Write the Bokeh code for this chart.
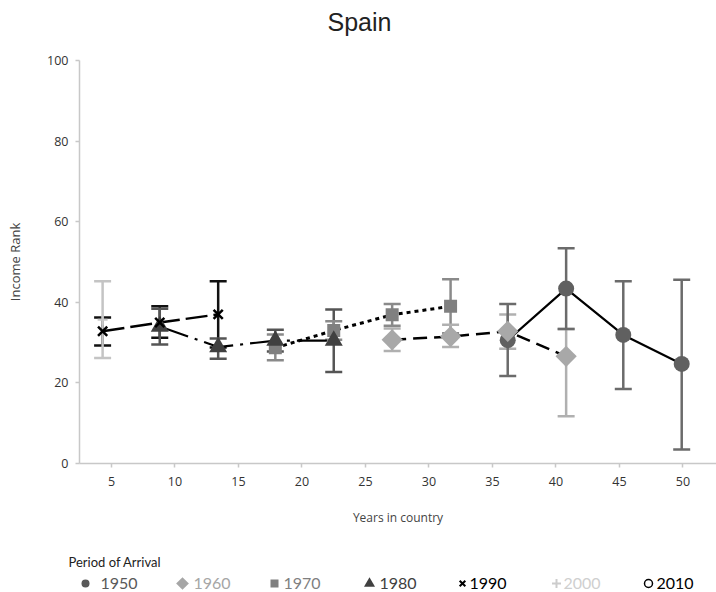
import numpy as np
from bokeh.plotting import figure
from bokeh.models import Range1d, ColumnDataSource, Whisker, TeeHead, FixedTicker
from bokeh.layouts import column
from bokeh.embed import file_html
from bokeh.resources import INLINE
from bokeh.core.properties import value

# ---------------- data ----------------
periods = ["1950", "1960", "1970", "1980", "1990", "2000", "2010"]

x_1950 = [36.2, 40.8, 45.3, 49.9]
y_1950 = [30.6, 43.4, 31.9, 24.7]
lo_1950 = [21.7, 33.4, 18.5, 3.5]
hi_1950 = [39.6, 53.4, 45.2, 45.6]

x_1960 = [27.1, 31.7, 36.2, 40.8]
y_1960 = [30.7, 31.5, 32.8, 26.6]
lo_1960 = [27.9, 28.9, 28.5, 11.7]
hi_1960 = [33.5, 34.4, 37.0, 33.4]

x_1970 = [17.9, 22.5, 27.1, 31.7]
y_1970 = [28.7, 33.0, 36.9, 39.0]
lo_1970 = [25.6, 30.7, 34.2, 32.3]
hi_1970 = [32.0, 35.3, 39.6, 45.7]

x_1980 = [8.8, 13.4, 17.9, 22.5]
y_1980 = [34.0, 28.9, 30.5, 30.5]
lo_1980 = [29.5, 26.0, 27.8, 22.7]
hi_1980 = [38.4, 31.0, 33.2, 38.2]

x_1990 = [4.3, 8.8, 13.4]
y_1990 = [32.8, 35.0, 37.0]
lo_1990 = [29.3, 31.2, 28.8]
hi_1990 = [36.2, 39.0, 45.2]

x_2000 = [4.3]
y_2000 = [35.7]
lo_2000 = [26.2]
hi_2000 = [45.2]

x_ticks = [5, 10, 15, 20, 25, 30, 35, 40, 45, 50]
y_ticks = [0, 20, 40, 60, 80, 100]

title_text = "Spain"
x_title = "Years in country"
y_title = "Income Rank"
legend_title = "Period of Arrival"

# ---------------- layout constants (pixels) ----------------
W = 716
TITLE_H = 52
MAIN_H = 493
LEG_H = 47
FRAME_L = 79
FRAME_T = 60          # picture y of value 100
FRAME_B = 463         # picture y of value 0
AXIS_FONT = "Open Sans"


def bare_panel(height, top):
    f = figure(width=W, height=height, x_range=Range1d(0, W),
               y_range=Range1d(top + height, top),
               x_axis_type=None, y_axis_type=None, output_backend="svg",
               toolbar_location=None, min_border=0)
    f.min_border_left = 0
    f.min_border_right = 0
    f.min_border_top = 0
    f.min_border_bottom = 0
    f.frame_align = False
    f.outline_line_color = None
    f.grid.visible = False
    return f


# ---------------- title panel ----------------
tf = bare_panel(TITLE_H, 0)
tf.text(x=[359], y=[21], text=[title_text], text_font=value("Liberation Sans"),
        text_font_size="25px", text_color="#222222", text_align="center",
        text_baseline="middle")

# ---------------- main plot ----------------
p = figure(width=W, height=MAIN_H,
           x_range=Range1d(2.48, 52.64), y_range=Range1d(0, 100),
           output_backend="svg", toolbar_location=None,
           min_border_left=FRAME_L, min_border_right=0,
           min_border_top=FRAME_T - TITLE_H,
           min_border_bottom=TITLE_H + MAIN_H - FRAME_B)
p.frame_align = False
p.outline_line_color = None
p.grid.visible = False
p.background_fill_color = "white"

for ax in (p.xaxis[0], p.yaxis[0]):
    ax.axis_line_color = "#c8c8c8"
    ax.axis_line_width = 1.5
    ax.major_tick_line_color = "#c8c8c8"
    ax.major_tick_line_width = 1.5
    ax.major_tick_in = 0
    ax.major_tick_out = 4
    ax.minor_tick_line_color = None
    ax.major_label_text_font = AXIS_FONT
    ax.major_label_text_font_size = "12.5px"
    ax.major_label_text_color = "#333333"
    ax.axis_label_text_font = AXIS_FONT
    ax.axis_label_text_font_style = "normal"
    ax.axis_label_text_color = "#444444"

p.xaxis[0].ticker = FixedTicker(ticks=x_ticks)
p.yaxis[0].ticker = FixedTicker(ticks=y_ticks)
p.xaxis[0].axis_label = x_title
p.yaxis[0].axis_label = y_title
p.xaxis[0].axis_label_text_font_size = "12px"
p.yaxis[0].axis_label_text_font_size = "13px"
p.xaxis[0].major_label_standoff = 9
p.yaxis[0].major_label_standoff = 7
p.xaxis[0].axis_label_standoff = 20
p.yaxis[0].axis_label_standoff = 20

series = {
    "1950": dict(x=x_1950, y=y_1950, lo=lo_1950, hi=hi_1950, bar="#6b6b6b",
                 dash="solid", lw=2.2),
    "1960": dict(x=x_1960, y=y_1960, lo=lo_1960, hi=hi_1960, bar="#b0b0b0",
                 dash="14 7", lw=2.5),
    "1970": dict(x=x_1970, y=y_1970, lo=lo_1970, hi=hi_1970, bar="#8a8a8a",
                 dash="4 4", lw=3),
    "1980": dict(x=x_1980, y=y_1980, lo=lo_1980, hi=hi_1980, bar="#555555",
                 dash="30 7 3 7", lw=2.2),
    "1990": dict(x=x_1990, y=y_1990, lo=lo_1990, hi=hi_1990, bar="#111111",
                 dash="22 6", lw=2.5),
    "2000": dict(x=x_2000, y=y_2000, lo=lo_2000, hi=hi_2000, bar="#c4c4c4",
                 dash="solid", lw=2),
}

# error bars
for name in ["1990", "2000", "1980", "1970", "1960", "1950"]:
    s = series[name]
    src = ColumnDataSource(dict(base=s["x"], lower=s["lo"], upper=s["hi"]))
    w = Whisker(source=src, base="base", lower="lower", upper="upper",
                dimension="height", line_color=s["bar"], line_width=2.5,
                upper_head=TeeHead(size=17, line_color=s["bar"], line_width=2.5),
                lower_head=TeeHead(size=17, line_color=s["bar"], line_width=2.5),
                level="underlay")
    p.add_layout(w)

# connecting lines
for name in ["1950", "1960", "1970", "1980", "1990"]:
    s = series[name]
    p.line(s["x"], s["y"], line_color="black", line_width=s["lw"],
           line_dash=s["dash"])

# markers
p.scatter(x_1950, y_1950, marker="circle", size=16, fill_color="#606060", line_color=None)
p.scatter(x_1970, y_1970, marker="square", size=13, fill_color="#808080", line_color=None)
p.scatter(x_1960, y_1960, marker="square", size=15, angle=np.pi / 4,
          fill_color="#a8a8a8", line_color=None)
p.scatter(x_1980, y_1980, marker="triangle", size=18, fill_color="#404040", line_color=None)
p.scatter(x_2000, y_2000, marker="cross", size=10, line_color="#c8c8c8", line_width=2)
p.scatter(x_1990, y_1990, marker="x", size=13, line_color="black", line_width=2.5)

# ---------------- legend panel (coordinates = picture pixels) ----------------
leg_markers = ["circle", "square", "square", "triangle", "x", "cross", "circle"]
leg_angle = [0, np.pi / 4, 0, 0, 0, 0, 0]
leg_fill = ["#595959", "#a6a6a6", "#7f7f7f", "#404040", None, None, None]
leg_line = [None, None, None, None, "black", "#cccccc", "black"]
leg_size = [8, 9, 8, 11, 8, 9, 8]
leg_text_color = ["#595959", "#a6a6a6", "#7f7f7f", "#404040", "black", "#cfcfcf", "black"]
leg_marker_x = [85, 182, 274, 369, 462, 556, 648]
leg_text_x = [100, 193, 283, 379, 469, 563, 656]
LEG_ROW_Y = 583

lg = bare_panel(LEG_H, TITLE_H + MAIN_H)
lg.text(x=[68], y=[561], text=[legend_title], text_font=value("Lato"),
        text_font_size="13px", text_color="#222222", text_baseline="middle")
for i, per in enumerate(periods):
    lw = 2 if leg_markers[i] in ("x", "cross") else 1.5
    lg.scatter([leg_marker_x[i]], [LEG_ROW_Y], marker=leg_markers[i], size=leg_size[i],
               angle=leg_angle[i], fill_color=leg_fill[i], line_color=leg_line[i],
               line_width=lw)
lg.text(x=leg_text_x, y=[LEG_ROW_Y] * len(periods), text=periods,
        text_color=leg_text_color, text_font=value("Lato"), text_font_size="16px",
        text_baseline="middle")

layout = column(tf, p, lg, spacing=0)
open("out.html", "w").write(file_html(layout, INLINE))
